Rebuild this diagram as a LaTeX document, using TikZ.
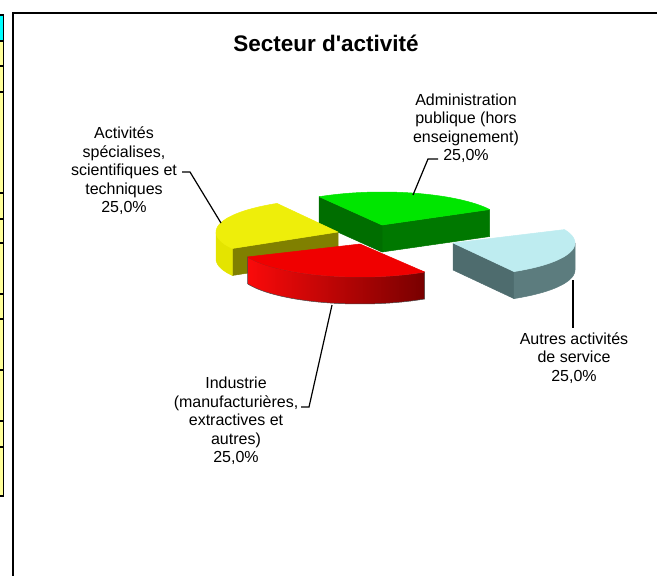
\documentclass[tikz,border=0pt]{standalone}
\usepackage{fontspec}
\setmainfont{Liberation Sans}[Ligatures=TeXOff]
\definecolor{gtop}{RGB}{0,230,0}
\definecolor{gsideA}{RGB}{0,120,0}
\definecolor{gsideB}{RGB}{0,110,0}
\definecolor{ctop}{RGB}{190,236,240}
\definecolor{cside}{RGB}{92,124,126}
\definecolor{csideB}{RGB}{78,108,110}
\definecolor{rtop}{RGB}{240,0,0}
\definecolor{rsideL}{RGB}{250,10,10}
\definecolor{rsideR}{RGB}{120,0,0}
\definecolor{ytop}{RGB}{238,238,10}
\definecolor{yside}{RGB}{128,128,0}
\definecolor{ycurve}{RGB}{228,228,0}
\definecolor{cellyellow}{RGB}{255,255,153}
\definecolor{cellcyan}{RGB}{0,255,255}
\definecolor{edgegray}{RGB}{70,70,70}
\tikzset{
  face/.style={draw=edgegray,line width=0.5pt,line join=round},
  lbl/.style={align=center,inner sep=0pt,font=\fontsize{16}{18.5}\selectfont},
  leader/.style={draw=black,line width=1.2pt},
}
\begin{document}
\begin{tikzpicture}[x=1pt,y=-1pt]
\useasboundingbox (0,0) rectangle (657,576);
% left table strip
\fill[cellyellow] (0,15) rectangle (3,496);
\fill[cellcyan] (0,15) rectangle (3,41);
\draw[line width=1.4pt] (3.3,14) -- (3.3,497);
\foreach \yy in {15,41,66,92,193,219,243,294,319,370,421,447,496}
  \draw[line width=1.4pt] (0,\yy) -- (4,\yy);
% chart frame
\draw[line width=2pt] (13,577) -- (13,13) -- (658,13);
% title
\node[font=\bfseries\fontsize{22.5}{26}\selectfont] (title) at (326,43) {Secteur d'activité};
% green slice (back)
\fill[face,gsideA] (382,225) -- (489.7,209.5) -- (489.7,236.5) -- (382,252) -- cycle;
\fill[face,gsideB] (382,225) -- (319.2,196.7) -- (319.2,223.7) -- (382,252) -- cycle;
\fill[face,gtop] (382,225) -- plot[domain=28:121,samples=40,variable=\t] ({382+122*cos(\t)},{225-33*sin(\t)}) -- cycle;
% yellow slice
\fill[face,yside] (338,232) -- (232.3,248.5) -- (232.3,275.5) -- (338,259) -- cycle;
\fill[face,ycurve] plot[domain=180:210,samples=15,variable=\t] ({338+122*cos(\t)},{232-33*sin(\t)}) -- plot[domain=210:180,samples=15,variable=\t] ({338+122*cos(\t)},{259-33*sin(\t)}) -- cycle;
\fill[face,ytop] (338,232) -- plot[domain=120:210,samples=40,variable=\t] ({338+122*cos(\t)},{232-33*sin(\t)}) -- cycle;
% cyan slice
\fill[face,csideB] (453,243) -- (514,271.6) -- (514,298.6) -- (453,270) -- cycle;
\fill[face,cside] plot[domain=-60:0,samples=25,variable=\t] ({453+122*cos(\t)},{243-33*sin(\t)}) -- plot[domain=0:-60,samples=25,variable=\t] ({453+122*cos(\t)},{270-33*sin(\t)}) -- cycle;
\fill[face,ctop] (453,243) -- plot[domain=-60:24,samples=40,variable=\t] ({453+122*cos(\t)},{243-33*sin(\t)}) -- cycle;
% red slice (front)
\shade[left color=rsideL,right color=rsideR] plot[domain=203:302,samples=40,variable=\t] ({360+122*cos(\t)},{244-33*sin(\t)}) -- plot[domain=302:203,samples=40,variable=\t] ({360+122*cos(\t)},{271-33*sin(\t)}) -- cycle;
\draw[face] plot[domain=203:302,samples=40,variable=\t] ({360+122*cos(\t)},{244-33*sin(\t)}) -- plot[domain=302:203,samples=40,variable=\t] ({360+122*cos(\t)},{271-33*sin(\t)}) -- cycle;
\fill[face,rtop] (360,244) -- plot[domain=203:302,samples=40,variable=\t] ({360+122*cos(\t)},{244-33*sin(\t)}) -- cycle;
% labels
\node[lbl] (ylab) at (124,171) {Activités\\spécialises,\\scientifiques et\\techniques\\25,0\%};
\node[lbl] (glab) at (466,128) {Administration\\publique (hors\\enseignement)\\25,0\%};
\node[lbl] (clab) at (574,358) {Autres activités\\de service\\25,0\%};
\node[lbl] (rlab) at (236,421) {Industrie\\(manufacturières,\\extractives et\\autres)\\25,0\%};
% leader points
\coordinate (ya) at (182,172);
\coordinate (yb) at (190,172);
\coordinate (yc) at (221,223);
\coordinate (ga) at (438,159);
\coordinate (gb) at (428,159);
\coordinate (gc) at (413,195);
\coordinate (ca) at (573,280);
\coordinate (cb) at (573,328);
\coordinate (ra) at (301,407);
\coordinate (rb) at (309,407);
\coordinate (rc) at (332,305);
\draw[leader] (ya) -- (yb) -- (yc);
\draw[leader] (ga) -- (gb) -- (gc);
\draw[leader] (ca) -- (cb);
\draw[leader] (ra) -- (rb) -- (rc);
\end{tikzpicture}
\end{document}
